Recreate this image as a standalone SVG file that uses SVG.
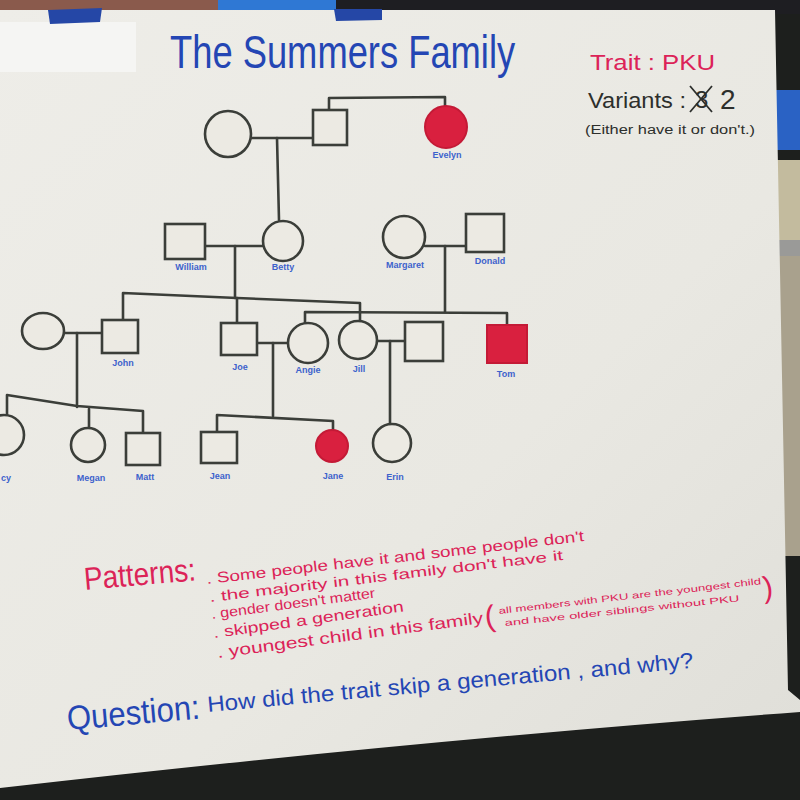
<svg xmlns="http://www.w3.org/2000/svg" width="800" height="800" viewBox="0 0 800 800">
  <defs>
    <style>
      .ln { fill: none; stroke: #3b3e39; stroke-width: 2.6; stroke-linecap: round; stroke-linejoin: round; }
      .sym { fill: #eceae3; stroke: #3b3e39; stroke-width: 2.6; }
      .aff { fill: #d9203f; stroke: #c41a36; stroke-width: 2; }
      .lbl { font-family: "Liberation Sans", Arial, sans-serif; font-size: 9px; font-weight: bold; fill: #3d62cc; text-anchor: middle; }
      .pink { font-family: "Liberation Sans Narrow", "Liberation Sans", Arial, sans-serif; fill: #dc2358; }
      .blue { font-family: "Liberation Sans Narrow", "Liberation Sans", Arial, sans-serif; fill: #2446b4; }
      .dark { font-family: "Liberation Sans Narrow", "Liberation Sans", Arial, sans-serif; fill: #2d2f2c; }
    </style>
    <linearGradient id="paper" x1="0" y1="0" x2="1" y2="1">
      <stop offset="0" stop-color="#eeede8"/>
      <stop offset="0.6" stop-color="#e9e8e2"/>
      <stop offset="1" stop-color="#dfded8"/>
    </linearGradient>
  </defs>

  <!-- background scene -->
  <rect x="0" y="0" width="800" height="800" fill="#1d1f1d"/>
  <rect x="0" y="0" width="218" height="14" fill="#8a5a4c"/>
  <rect x="218" y="0" width="118" height="14" fill="#2f78d4"/>
  <rect x="336" y="0" width="464" height="14" fill="#1e1e22"/>
  <rect x="776" y="90" width="24" height="60" fill="#2a62c4"/>
  <rect x="776" y="160" width="24" height="80" fill="#c3bb9e"/>
  <rect x="776" y="240" width="24" height="16" fill="#9a9a98"/>
  <rect x="776" y="256" width="24" height="300" fill="#a9a18d"/>

  <!-- paper -->
  <path d="M0,10 L775,10 L788,690 L800,700 L800,712 Q420,740 0,788 Z" fill="url(#paper)"/>
  <rect x="0" y="22" width="136" height="50" fill="#f5f5f3"/>
  <!-- tape -->
  <polygon points="48,10 102,8 100,22 50,24" fill="#2547a6"/>
  <polygon points="334,9 382,9 382,20 336,21" fill="#2547a6"/>

  <!-- title and key -->
  <text class="blue" transform="translate(170,68) scale(0.79,1)" x="0" y="0" font-size="46" fill="#2c4aa6">The Summers Family</text>
  <text class="pink" x="590" y="70" font-size="22" textLength="125" lengthAdjust="spacingAndGlyphs">Trait : PKU</text>
  <text class="dark" x="588" y="108" font-size="22" textLength="98" lengthAdjust="spacingAndGlyphs">Variants :</text>
  <text class="dark" x="695" y="108" font-size="24">3</text>
  <path d="M690,86 L712,112 M712,86 L690,112" stroke="#2d2f2c" stroke-width="1.8" fill="none"/>
  <text class="dark" x="720" y="109" font-size="28">2</text>
  <text class="dark" x="585" y="134" font-size="12" textLength="170" lengthAdjust="spacingAndGlyphs">(Either have it or don't.)</text>

  <!-- connectors -->
  <g id="connectors">
    <!-- gen 1 -->
    <path class="ln" d="M250,138 L313,138"/>
    <path class="ln" d="M277,138 L279,220"/>
    <path class="ln" d="M329,110 L329,98 L445,97 L445,106"/>
    <!-- gen 2 -->
    <path class="ln" d="M205,246 L263,246"/>
    <path class="ln" d="M235,246 L235,298"/>
    <path class="ln" d="M425,246 L466,246"/>
    <path class="ln" d="M445,246 L445,312"/>
    <!-- gen 3 sibships -->
    <path class="ln" d="M123,320 L123,293 L237,298 L360,303 L360,320"/>
    <path class="ln" d="M237,298 L237,323"/>
    <path class="ln" d="M305,323 L305,312 L507,313 L507,325"/>
    <!-- gen 3 matings -->
    <path class="ln" d="M63,333 L102,333"/>
    <path class="ln" d="M77,333 L77,407"/>
    <path class="ln" d="M257,343 L288,343"/>
    <path class="ln" d="M273,343 L273,416"/>
    <path class="ln" d="M378,341 L405,341"/>
    <path class="ln" d="M390,341 L390,424"/>
    <!-- gen 4 sibships -->
    <path class="ln" d="M7,415 L7,395 L77,406 L143,411 L143,433"/>
    <path class="ln" d="M89,409 L89,428"/>
    <path class="ln" d="M217,432 L217,415 L333,421 L333,430"/>
  </g>

  <!-- generation 1 -->
  <g id="grandmother"><circle class="sym" cx="228" cy="134" r="23"/></g>
  <g id="grandfather"><rect class="sym" x="313" y="110" width="34" height="35"/></g>
  <g id="evelyn"><circle class="aff" cx="446" cy="127" r="21"/><text class="lbl" x="447" y="158" font-size="7">Evelyn</text></g>

  <!-- generation 2 -->
  <g id="william"><rect class="sym" x="165" y="224" width="40" height="35"/><text class="lbl" x="191" y="270">William</text></g>
  <g id="betty"><circle class="sym" cx="283" cy="241" r="20"/><text class="lbl" x="283" y="270">Betty</text></g>
  <g id="margaret"><circle class="sym" cx="404" cy="237" r="21"/><text class="lbl" x="405" y="268">Margaret</text></g>
  <g id="donald"><rect class="sym" x="466" y="214" width="38" height="38" fill="#e2e1dc"/><text class="lbl" x="490" y="264">Donald</text></g>

  <!-- generation 3 -->
  <g id="john-wife"><ellipse class="sym" cx="43" cy="331" rx="21" ry="18"/></g>
  <g id="john"><rect class="sym" x="102" y="320" width="36" height="33"/><text class="lbl" x="123" y="366">John</text></g>
  <g id="joe"><rect class="sym" x="221" y="323" width="36" height="32"/><text class="lbl" x="240" y="370">Joe</text></g>
  <g id="angie"><circle class="sym" cx="308" cy="343" r="20"/><text class="lbl" x="308" y="373">Angie</text></g>
  <g id="jill"><circle class="sym" cx="358" cy="340" r="19"/><text class="lbl" x="359" y="372">Jill</text></g>
  <g id="jill-husband"><rect class="sym" x="405" y="322" width="38" height="39" fill="#e2e1dc"/></g>
  <g id="tom"><rect class="aff" x="487" y="325" width="40" height="38"/><text class="lbl" x="506" y="377">Tom</text></g>

  <!-- generation 4 -->
  <g id="lucy"><circle class="sym" cx="4" cy="435" r="20"/><text class="lbl" x="6" y="481">cy</text></g>
  <g id="megan"><circle class="sym" cx="88" cy="445" r="17"/><text class="lbl" x="91" y="481">Megan</text></g>
  <g id="matt"><rect class="sym" x="126" y="433" width="34" height="32"/><text class="lbl" x="145" y="480">Matt</text></g>
  <g id="jean"><rect class="sym" x="201" y="432" width="36" height="31"/><text class="lbl" x="220" y="479">Jean</text></g>
  <g id="jane"><circle class="aff" cx="332" cy="446" r="16"/><text class="lbl" x="333" y="479">Jane</text></g>
  <g id="erin"><circle class="sym" cx="392" cy="443" r="19"/><text class="lbl" x="395" y="480">Erin</text></g>

  <!-- patterns -->
  <text class="pink" x="85" y="590" font-size="32" textLength="112" lengthAdjust="spacingAndGlyphs" transform="rotate(-5 85 590)">Patterns:</text>
  <text class="pink" x="207" y="584" font-size="15" textLength="380" lengthAdjust="spacingAndGlyphs" transform="rotate(-6.5 207 584)">. Some people have it and some people don't</text>
  <text class="pink" x="210" y="602" font-size="14" textLength="356" lengthAdjust="spacingAndGlyphs" transform="rotate(-6.8 210 602)">. the majority in this family don't have it</text>
  <text class="pink" x="212" y="619" font-size="14" textLength="165" lengthAdjust="spacingAndGlyphs" transform="rotate(-7.5 212 619)">. gender doesn't matter</text>
  <text class="pink" x="214" y="638" font-size="15" textLength="192" lengthAdjust="spacingAndGlyphs" transform="rotate(-8 214 638)">. skipped a generation</text>
  <text class="pink" x="218" y="658" font-size="16" textLength="268" lengthAdjust="spacingAndGlyphs" transform="rotate(-7.5 218 658)">. youngest child in this family</text>
  <text class="pink" x="486" y="627" font-size="30" transform="rotate(-7 486 627)">(</text>
  <text class="pink" x="499" y="614" font-size="9" textLength="264" lengthAdjust="spacingAndGlyphs" transform="rotate(-6.5 499 614)">all members with PKU are the youngest child</text>
  <text class="pink" x="505" y="626" font-size="9" textLength="236" lengthAdjust="spacingAndGlyphs" transform="rotate(-6 505 626)">and have older siblings without PKU</text>
  <text class="pink" x="764" y="598" font-size="30" transform="rotate(-7 764 598)">)</text>

  <!-- question -->
  <text class="blue" x="68" y="730" font-size="34" textLength="133" lengthAdjust="spacingAndGlyphs" transform="rotate(-5 68 730)">Question:</text>
  <text class="blue" x="208" y="712" font-size="22" textLength="488" lengthAdjust="spacingAndGlyphs" transform="rotate(-5.2 208 712)">How did the trait skip a generation , and why?</text>
</svg>
